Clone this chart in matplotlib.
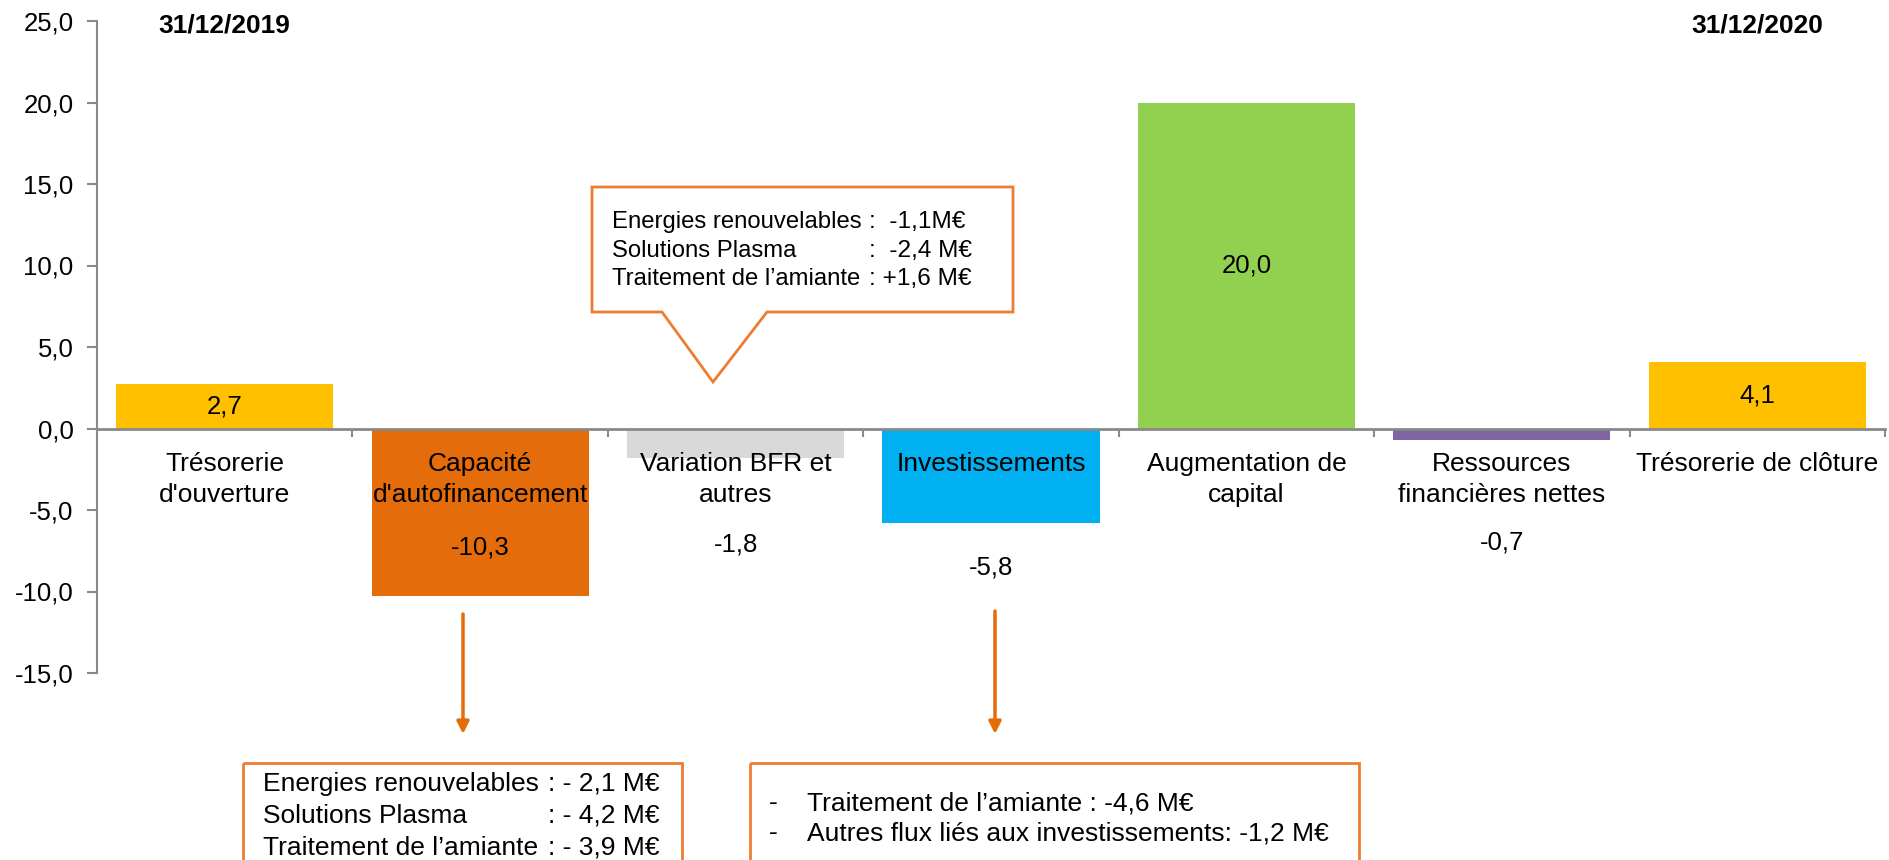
import numpy as np
from matplotlib import pyplot as plt
from matplotlib.patches import Polygon, Rectangle
from matplotlib.ticker import FuncFormatter

plt.rcParams['font.family'] = ['Liberation Sans', 'DejaVu Sans']

# data
categories = ["Trésorerie\nd'ouverture", "Capacité\nd'autofinancement",
              "Variation BFR et\nautres", "Investissements",
              "Augmentation de\ncapital", "Ressources\nfinancières nettes",
              "Trésorerie de clôture"]
values = [2.7, -10.3, -1.8, -5.8, 20.0, -0.7, 4.1]
colors = ["#FFC000", "#E46C0A", "#D9D9D9", "#00B0F0", "#92D050", "#8064A2", "#FFC000"]
dates = ["31/12/2019", "31/12/2020"]

bfr_names = ["Energies renouvelables", "Solutions Plasma", "Traitement de l\u2019amiante"]
bfr_vals = [":  -1,1M€", ":  -2,4 M€", ": +1,6 M€"]
caf_names = ["Energies renouvelables", "Solutions Plasma", "Traitement de l\u2019amiante"]
caf_vals = [": - 2,1 M€", ": - 4,2 M€", ": - 3,9 M€"]
inv_lines = ["Traitement de l\u2019amiante : -4,6 M€",
             "Autres flux liés aux investissements: -1,2 M€"]

# where the labels of negative bars sit (data y)
neg_label_y = {1: -7.3, 2: -7.1, 3: -8.5, 5: -7.0}

grey = "#898989"
orange = "#ED7D31"
arrow_c = "#E46C0A"

fig = plt.figure(figsize=(18.89, 8.6), dpi=100)
ax = fig.add_axes([97 / 1889, 1 - 673 / 860, 1788 / 1889, 652 / 860])

x = np.arange(len(values))
ax.bar(x, values, width=0.85, color=colors, zorder=1)

for i, v in enumerate(values):
    y = v / 2 if v > 0 else neg_label_y[i]
    ax.text(i, y, f"{v:.1f}".replace(".", ","), ha="center", va="center", fontsize=18.5)

# category names just under the zero line
for i, name in enumerate(categories):
    ax.annotate(name, xy=(i, 0), xytext=(0, -16.6), textcoords="offset points",
                ha="center", va="top", fontsize=19, linespacing=1.4, zorder=3)

ax.text(0, 24.75, dates[0], ha="center", va="center", fontsize=19, fontweight="bold")
ax.text(6, 24.75, dates[1], ha="center", va="center", fontsize=19, fontweight="bold")

ax.set_xlim(-0.5, 6.5)
ax.set_ylim(-15, 25)
ax.set_yticks(np.arange(-15, 26, 5))
ax.yaxis.set_major_formatter(FuncFormatter(lambda v, p: f"{v:.1f}".replace(".", ",")))
ax.tick_params(axis="y", labelsize=18.5, length=7, width=1.5, color=grey, pad=10)

ax.set_xticks(np.arange(-0.5, 7, 1))
ax.set_xticklabels([])
ax.tick_params(axis="x", which="major", length=6, width=1.5, color=grey, direction="out")

for s in ["top", "right"]:
    ax.spines[s].set_visible(False)
ax.spines["bottom"].set_position(("data", 0))
ax.spines["bottom"].set_color(grey)
ax.spines["bottom"].set_linewidth(2)
ax.spines["left"].set_color(grey)
ax.spines["left"].set_linewidth(1.5)

# overlay in pixel coordinates for the notes
ov = fig.add_axes([0, 0, 1, 1], facecolor="none")
ov.set_xlim(0, 1889)
ov.set_ylim(860, 0)
ov.axis("off")

callout = [(592, 187), (1013, 187), (1013, 312), (767, 312), (713, 382), (662, 312), (592, 312)]
ov.add_patch(Polygon(callout, closed=True, fill=False, edgecolor=orange, lw=2))
for k, yy in enumerate([222, 251, 279]):
    ov.text(612, yy, bfr_names[k], fontsize=17.2, va="center", ha="left")
    ov.text(869, yy, bfr_vals[k], fontsize=17.6, va="center", ha="left")

ov.add_patch(Rectangle((243, 763), 682 - 243, 120, fill=False, edgecolor=orange, lw=2))
for k, yy in enumerate([784, 816, 848]):
    ov.text(263, yy, caf_names[k], fontsize=19, va="center", ha="left")
    ov.text(548, yy, caf_vals[k], fontsize=19, va="center", ha="left")

ov.add_patch(Rectangle((750, 763), 1359 - 750, 120, fill=False, edgecolor=orange, lw=2))
for k, yy in enumerate([803, 833]):
    ov.text(773, yy, "-", fontsize=19, va="center", ha="center")
    ov.text(807, yy, inv_lines[k], fontsize=19, va="center", ha="left")

for ax_x, y0 in [(463, 614), (995, 611)]:
    ov.annotate("", xy=(ax_x, 734), xytext=(ax_x, y0),
                arrowprops=dict(arrowstyle="-|>", color=arrow_c, lw=2.5,
                                mutation_scale=18, shrinkA=0, shrinkB=0))

fig.savefig("out.png", dpi=100)
